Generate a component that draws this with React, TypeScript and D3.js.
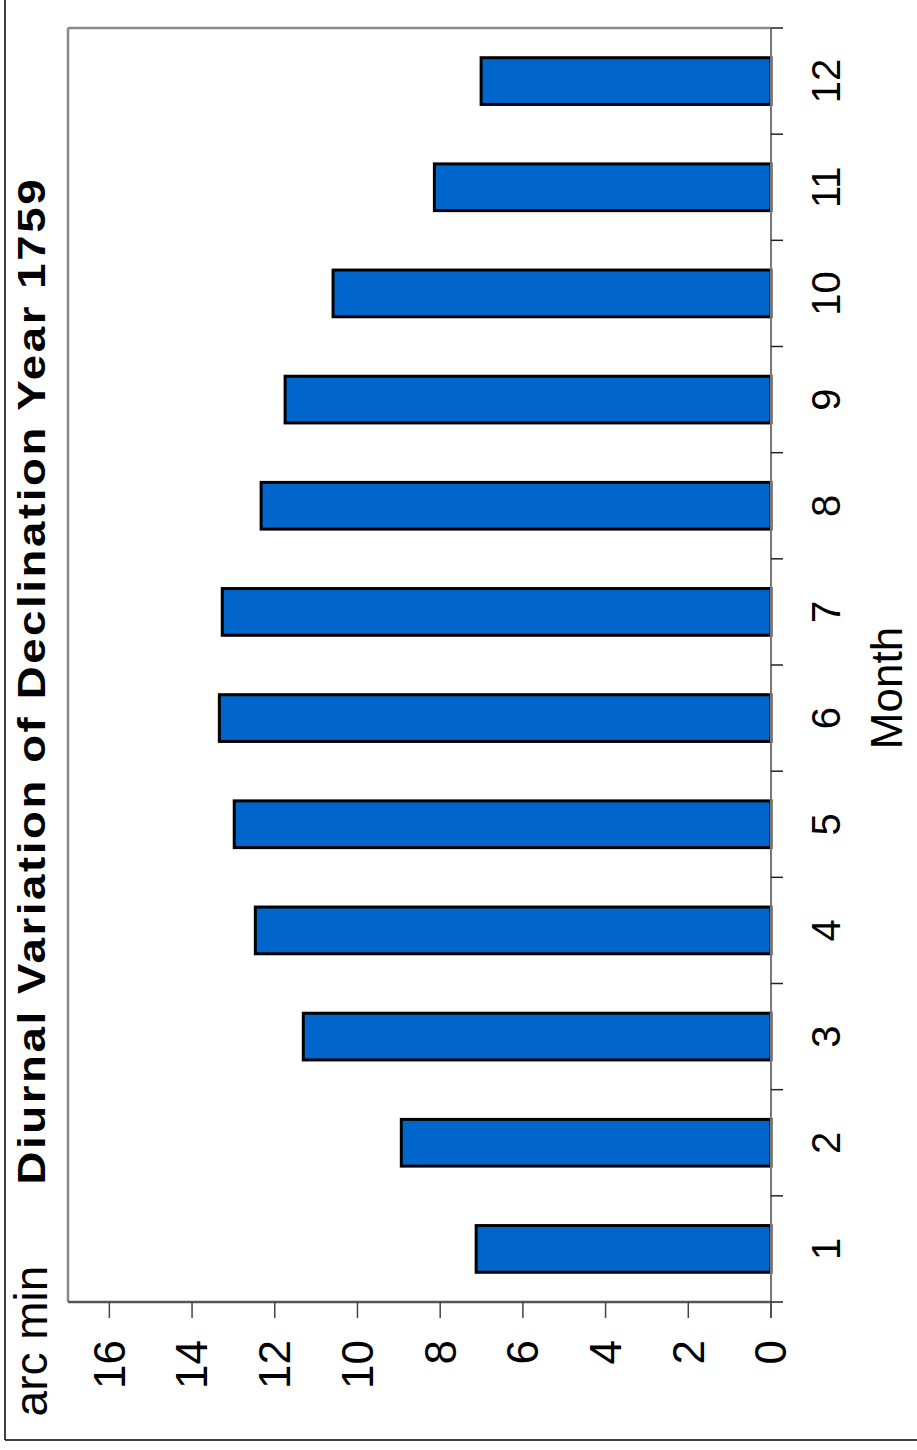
import React from "react";
import * as d3 from "d3";

const months = ["1", "2", "3", "4", "5", "6", "7", "8", "9", "10", "11", "12"];
const values = [7.13, 8.94, 11.31, 12.47, 12.98, 13.34, 13.27, 12.33, 11.75, 10.59, 8.14, 7.01];
const valueTicks = [0, 2, 4, 6, 8, 10, 12, 14, 16];
const title = "Diurnal Variation of Declination Year 1759";
const valueLabel = "arc min";
const categoryLabel = "Month";

const W = 917;
const H = 1450;
const plot = { left: 68, right: 771, top: 28, bottom: 1302 };
const font = "'Liberation Sans', Arial, Helvetica, sans-serif";

export default function App() {
  // value axis runs right-to-left (chart rotated 90° CCW)
  const x = d3.scaleLinear().domain([0, 17]).range([plot.right, plot.left]);
  // months bottom-to-top
  const y = d3
    .scaleBand<string>()
    .domain(months)
    .range([plot.bottom, plot.top])
    .paddingInner(0.56)
    .paddingOuter(0.28);
  const step = y.step();
  const boundaries = d3.range(months.length + 1).map((i) => plot.bottom - i * step);
  const titleStretch = 1.2;

  return (
    <svg
      width={W}
      height={H}
      style={{ position: "absolute", left: 0, top: 0, background: "#fff" }}
      fontFamily={font}
    >
      <rect x={0} y={0} width={W} height={H} fill="#fff" />
      {/* outer frame */}
      <line x1={5} y1={0} x2={5} y2={1440} stroke="#000" strokeWidth={1.5} />
      <line x1={5} y1={1440} x2={W} y2={1440} stroke="#000" strokeWidth={1.5} />

      {/* plot frame */}
      <line x1={plot.left} y1={plot.top} x2={plot.right} y2={plot.top} stroke="#888" strokeWidth={2.5} />
      <line x1={plot.left} y1={plot.top} x2={plot.left} y2={plot.bottom} stroke="#888" strokeWidth={2.5} />

      {/* bars */}
      {months.map((m, i) => (
        <rect
          key={m}
          x={x(values[i])}
          y={y(m)!}
          width={x(0) - x(values[i])}
          height={y.bandwidth()}
          fill="#0066CC"
          stroke="#000"
          strokeWidth={3}
        />
      ))}

      {/* category axis (right) */}
      <line x1={plot.right} y1={plot.top} x2={plot.right} y2={plot.bottom + 16} stroke="#777" strokeWidth={2} />
      {boundaries.map((b, i) => (
        <line key={"cb" + i} x1={plot.right} y1={b} x2={plot.right + 12} y2={b} stroke="#222" strokeWidth={1.5} />
      ))}
      {months.map((m) => {
        const cy = y(m)! + y.bandwidth() / 2;
        return (
          <text
            key={"cl" + m}
            transform={`translate(826,${cy}) rotate(-90)`}
            textAnchor="middle"
            dy="0.35em"
            fontSize={40}
            fill="#000"
          >
            {m}
          </text>
        );
      })}
      <text
        transform={`translate(887,688) rotate(-90)`}
        textAnchor="middle"
        dy="0.35em"
        fontSize={44}
        fill="#000"
      >
        {categoryLabel}
      </text>

      {/* value axis (bottom) */}
      <line x1={plot.left} y1={plot.bottom} x2={plot.right} y2={plot.bottom} stroke="#555" strokeWidth={2.5} />
      {valueTicks.map((t) => (
        <line key={"vt" + t} x1={x(t)} y1={plot.bottom} x2={x(t)} y2={plot.bottom + 16} stroke="#444" strokeWidth={1.5} />
      ))}
      {valueTicks.map((t) => (
        <text
          key={"vl" + t}
          transform={`translate(${x(t)},1340) rotate(-90)`}
          textAnchor="end"
          dy="0.35em"
          fontSize={44}
          fill="#000"
        >
          {t}
        </text>
      ))}
      <text
        transform={`translate(31,1341) rotate(-90)`}
        textAnchor="middle"
        dy="0.35em"
        fontSize={46}
        fill="#000"
      >
        {valueLabel}
      </text>

      {/* title */}
      <text
        transform={`translate(32,682) rotate(-90) scale(${titleStretch},1)`}
        textAnchor="middle"
        dy="0.35em"
        fontSize={38}
        fontWeight="bold"
        fill="#000"
        textLength={1005 / titleStretch}
        lengthAdjust="spacing"
      >
        {title}
      </text>
    </svg>
  );
}
